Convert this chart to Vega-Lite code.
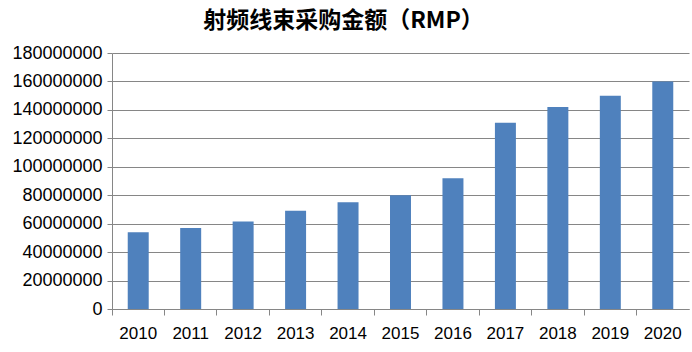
{
  "$schema": "https://vega.github.io/schema/vega-lite/v6.json",
  "width": 577,
  "height": 256,
  "autosize": {"type": "none"},
  "padding": {"left": 112, "top": 53, "right": 3, "bottom": 43},
  "background": "white",
  "title": {
    "text": "射频线束采购金额（RMP）",
    "font": "Noto Sans CJK SC",
    "fontSize": 23,
    "fontWeight": "bold",
    "color": "#000000",
    "anchor": "middle",
    "dx": -57,
    "offset": 11
  },
  "data": {
    "values": [
      {"year": "2010", "amount": 54000000},
      {"year": "2011", "amount": 57000000},
      {"year": "2012", "amount": 61500000},
      {"year": "2013", "amount": 69000000},
      {"year": "2014", "amount": 75000000},
      {"year": "2015", "amount": 80000000},
      {"year": "2016", "amount": 92000000},
      {"year": "2017", "amount": 131000000},
      {"year": "2018", "amount": 142000000},
      {"year": "2019", "amount": 150000000},
      {"year": "2020", "amount": 160000000}
    ]
  },
  "mark": {"type": "bar", "color": "#4F81BD"},
  "encoding": {
    "x": {
      "field": "year",
      "type": "ordinal",
      "scale": {"paddingInner": 0.6, "paddingOuter": 0.3},
      "axis": {
        "title": null,
        "labelAngle": 0,
        "labelFont": "Liberation Sans",
        "labelFontSize": 17,
        "labelColor": "#000000",
        "labelPadding": 10,
        "bandPosition": -0.75,
        "labelOffset": 0,
        "tickColor": "#868686",
        "tickSize": 6,
        "domainColor": "#868686",
        "grid": false
      }
    },
    "y": {
      "field": "amount",
      "type": "quantitative",
      "scale": {"domain": [0, 180000000], "nice": false},
      "axis": {
        "title": null,
        "values": [0, 20000000, 40000000, 60000000, 80000000, 100000000, 120000000, 140000000, 160000000, 180000000],
        "format": "d",
        "labelFont": "Liberation Sans",
        "labelFontSize": 18,
        "labelColor": "#000000",
        "labelPadding": 5,
        "tickColor": "#868686",
        "tickSize": 5,
        "domainColor": "#868686",
        "grid": true,
        "gridColor": "#868686",
        "gridOpacity": 1
      }
    }
  },
  "config": {"view": {"stroke": null}}
}
